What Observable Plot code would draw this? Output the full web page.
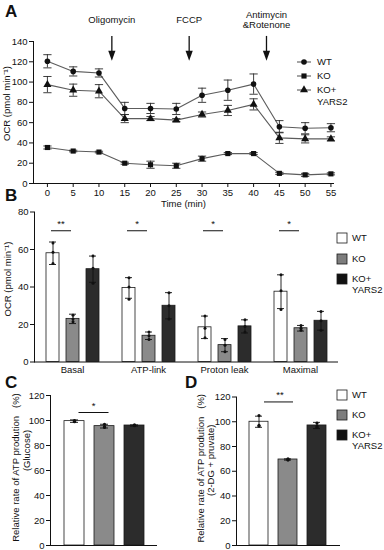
<!DOCTYPE html>
<html>
<head>
<meta charset="utf-8">
<script src="https://cdn.jsdelivr.net/npm/d3@7"></script>
<script src="https://cdn.jsdelivr.net/npm/@observablehq/plot@0.6"></script>
<style>
  body { margin: 0; background: #fff; }
  #fig { position: relative; width: 384px; height: 550px; overflow: hidden; background: #fff;
         font-family: "Liberation Sans", Arial, Helvetica, sans-serif; }
  #fig > div.panel { position: absolute; }
  #overlay { position: absolute; left: 0; top: 0; pointer-events: none; }
</style>
</head>
<body>
<div id="fig"></div>
<script>
// ---------------- DATA ----------------
// Panel A: Seahorse OCR time course
const timeMin = [0, 5, 10, 15, 20, 25, 30, 35, 40, 45, 50, 55];
const ocrWT  = [120.5, 110.5, 109, 74, 74, 73.5, 87, 92, 98, 56, 54.5, 55];
const sdWT   = [6.5, 4.5, 4, 6, 5, 5.5, 7, 10, 10, 6, 5.5, 4];
const ocrKO  = [35.5, 32, 31, 20, 18.5, 17.5, 24.5, 29.5, 29.5, 10, 8.5, 9.5];
const sdKO   = [1.5, 0.8, 0.8, 1, 3.5, 2.5, 2.5, 1, 1, 1, 1.5, 1];
const ocrKOY = [97.5, 92, 91, 64, 64, 62.5, 68, 72, 78, 45, 44, 44];
const sdKOY  = [8, 6, 6.5, 4, 2, 1.5, 2.5, 5, 5.5, 5.5, 4, 2];
const yTicksA = [0, 20, 40, 60, 80, 100, 120, 140];
const injectionNames = ["Oligomycin", "FCCP", "Antimycin\n&Rotenone"];
const injectionTimes = [12.5, 27.5, 42.5];

// Panel B: OCR parameters
const metrics = ["Basal", "ATP-link", "Proton leak", "Maximal"];
const genotypes = ["WT", "KO", "KO+YARS2"];
const ocrB_WT  = [58, 39.5, 18.5, 37.5];
const ocrB_KO  = [23, 14, 9, 18];
const ocrB_KOY = [49.5, 30, 19, 22];
const sdB_WT  = [6, 5.5, 6, 9];
const sdB_KO  = [2.5, 2, 3.5, 1.5];
const sdB_KOY = [7, 7, 3.5, 5];
const ptsB_WT  = [[63.5, 58.5, 52.5], [45, 40, 33.5], [24.5, 18, 13], [46.5, 38, 28]];
const ptsB_KO  = [[25, 23, 21.5], [16, 14, 12], [12, 9, 5.5], [19.5, 18, 17]];
const ptsB_KOY = [[56.5, 50, 42], [37, 30, 23], [22.5, 19, 16], [27, 22, 17]];
const sigB = ["**", "*", "*", "*"];
const yTicksB = [0, 20, 40, 60, 80];

// Panel C: relative ATP production (Glucose)
const atpGlc = [99.5, 95.5, 96];
const sdGlc  = [1, 1.5, 0.5];
const ptsGlc = [[100, 99, 99.5], [97, 95, 94.5], [96.5, 96, 95.8]];
const sigC = "*";

// Panel D: relative ATP production (2-DG + pruvate)
const atpDG = [100, 69.5, 97];
const sdDG  = [4.5, 0.5, 2.5];
const ptsDG = [[105, 97, 96.5], [70, 69.5, 69], [99, 96.5, 95.5]];
const sigD = "**";
const yTicksCD = [0, 20, 40, 60, 80, 100, 120];

const legendLabels = [["WT"], ["KO"], ["KO+", "YARS2"]];
const barFill = ["#ffffff", "#8a8a8a", "#2c2c2c"];

// ---------------- HELPERS ----------------
const FONT = "'Liberation Sans', Arial, Helvetica, sans-serif";
const INK = "#111";
const fig = document.getElementById("fig");
function plotStyle() {
  return {fontFamily: FONT, fontSize: "9.5px", color: INK, background: "transparent", overflow: "visible"};
}
function place(node, left, top) {
  const d = document.createElement("div");
  d.className = "panel";
  d.style.left = left + "px";
  d.style.top = top + "px";
  d.appendChild(node);
  fig.appendChild(d);
}
// filled arrow head, tip at the anchor point
const arrowHead = {draw(ctx) { ctx.moveTo(0, 0); ctx.lineTo(-3.6, -10); ctx.lineTo(3.6, -10); ctx.closePath(); }};
const rotLabel = {frameAnchor: "left", rotate: -90, textAnchor: "middle", lineAnchor: "middle", fill: INK};

// ---------------- PANEL A ----------------
const seriesA = [
  {key: "WT", symbol: "circle", r: 2.8, mean: ocrWT, sd: sdWT},
  {key: "KO", symbol: "square", r: 2.9, mean: ocrKO, sd: sdKO},
  {key: "KO+YARS2", symbol: "triangle", r: 3.0, mean: ocrKOY, sd: sdKOY}
];
const rowsA = seriesA.flatMap(s => timeMin.map((t, i) => ({
  key: s.key, t, v: s.mean[i], lo: s.mean[i] - s.sd[i], hi: s.mean[i] + s.sd[i]
})));
const capA = 0.8;
const plotA = Plot.plot({
  width: 384, height: 210, marginLeft: 33, marginRight: 51, marginTop: 41, marginBottom: 27,
  style: plotStyle(),
  x: {domain: [-2.7, 55.5]},
  y: {domain: [0, 140]},
  marks: [
    Plot.frame({anchor: "left", stroke: INK}),
    Plot.frame({anchor: "bottom", stroke: INK}),
    Plot.axisX({ticks: timeMin, tickSize: 4, tickPadding: 2, label: null}),
    Plot.axisY({ticks: yTicksA, tickSize: 4, tickPadding: 2, label: null}),
    Plot.line(rowsA, {x: "t", y: "v", z: "key", stroke: "#5c5c5c", strokeWidth: 1.1}),
    Plot.ruleX(rowsA, {x: "t", y1: "lo", y2: "hi", stroke: "#2a2a2a", strokeWidth: 0.9}),
    Plot.link(rowsA, {x1: d => d.t - capA, x2: d => d.t + capA, y1: "hi", y2: "hi", stroke: "#2a2a2a", strokeWidth: 0.9}),
    Plot.link(rowsA, {x1: d => d.t - capA, x2: d => d.t + capA, y1: "lo", y2: "lo", stroke: "#2a2a2a", strokeWidth: 0.9}),
    ...seriesA.map(s => Plot.dot(rowsA.filter(d => d.key === s.key), {x: "t", y: "v", symbol: s.symbol, r: s.r, fill: INK, stroke: "none"})),
    Plot.ruleX(injectionTimes, {x: d => d, y1: 145, y2: 130, stroke: INK, strokeWidth: 1.3}),
    Plot.dot(injectionTimes, {x: d => d, y: 121, symbol: arrowHead, fill: INK, stroke: "none"}),
    Plot.text(injectionNames, {x: (d, i) => injectionTimes[i], y: 161.7, text: d => d, lineHeight: 1.05, fill: INK}),
    Plot.text(["Time (min)"], {frameAnchor: "bottom", lineAnchor: "middle", dy: 20.5, fill: INK}),
    Plot.text(["OCR (pmol min\u207b\u00b9)"], {...rotLabel, dx: -27, dy: -9})
  ]
});
place(plotA, 0, 0);

// ---------------- PANEL B ----------------
const meansB = [ocrB_WT, ocrB_KO, ocrB_KOY];
const sdsB = [sdB_WT, sdB_KO, sdB_KOY];
const ptsB = [ptsB_WT, ptsB_KO, ptsB_KOY];
const barsB = [], dotsB = [];
genotypes.forEach((g, gi) => metrics.forEach((m, mi) => {
  const mean = meansB[gi][mi], sd = sdsB[gi][mi];
  barsB.push({metric: m, genotype: g, mean, lo: mean - sd, hi: mean + sd});
  ptsB[gi][mi].forEach(v => dotsB.push({metric: m, genotype: g, v}));
}));
const sigRowsB = metrics.map((m, i) => ({metric: m, from: "WT", to: "KO", y: 70, label: sigB[i]}));

const plotB = Plot.plot({
  width: 384, height: 190, marginLeft: 33, marginRight: 45, marginTop: 21.5, marginBottom: 18.5,
  style: plotStyle(),
  fx: {domain: metrics, padding: 0, label: null},
  x: {domain: genotypes, paddingInner: 0.37, paddingOuter: 0.53, axis: null},
  y: {domain: [0, 80]},
  color: {domain: genotypes, range: barFill},
  marks: [
    Plot.axisFx({anchor: "bottom", tickSize: 0, tickPadding: 4, label: null}),
    Plot.axisY({ticks: yTicksB, tickSize: 4, tickPadding: 2, label: null}),
    Plot.barY(barsB, {fx: "metric", x: "genotype", y: "mean", fill: "genotype", stroke: "#1a1a1a", strokeWidth: 0.8}),
    Plot.ruleX(barsB, {fx: "metric", x: "genotype", y1: "lo", y2: "hi", stroke: INK, strokeWidth: 0.9}),
    Plot.tickY(barsB, {fx: "metric", x: "genotype", y: "hi", insetLeft: 3, insetRight: 3, stroke: INK, strokeWidth: 0.9}),
    Plot.tickY(barsB, {fx: "metric", x: "genotype", y: "lo", insetLeft: 3, insetRight: 3, stroke: INK, strokeWidth: 0.9}),
    Plot.dot(dotsB, {fx: "metric", x: "genotype", y: "v", r: 1.5, fill: INK, stroke: "none"}),
    Plot.link(sigRowsB, {fx: "metric", x1: "from", x2: "to", y1: "y", y2: "y", dx: -2, stroke: INK, strokeWidth: 1}),
    Plot.text(sigRowsB, {fx: "metric", x: "from", y: "y", text: "label", dx: 8, dy: -7, fill: INK}),
    Plot.ruleY([0], {stroke: INK}),
    Plot.frame({anchor: "left", facet: "super", stroke: INK}),
    Plot.text(["OCR (pmol min\u207b\u00b9)"], {...rotLabel, dx: -27, dy: -8, facet: "super"})
  ]
});
place(plotB, 0, 190);

// ---------------- PANELS C & D ----------------
function atpPanel({means, sds, pts, sig, sigY, sigDx, starDx, label2, width, mL, mR, mT, pad, l1dx, l2dx, l1dy, l2dy}) {
  const bars = genotypes.map((g, i) => ({genotype: g, mean: means[i], lo: means[i] - sds[i], hi: means[i] + sds[i]}));
  const dots = genotypes.flatMap((g, i) => pts[i].map(v => ({genotype: g, v})));
  const sigRow = [{from: "WT", to: "KO", y: sigY, label: sig}];
  return Plot.plot({
    width, height: 170, marginLeft: mL, marginRight: mR, marginTop: mT, marginBottom: 5,
    style: plotStyle(),
    x: {domain: genotypes, paddingInner: pad[0], paddingOuter: pad[1], axis: null},
    y: {domain: [0, 120]},
    color: {domain: genotypes, range: barFill},
    marks: [
      Plot.frame({anchor: "left", stroke: INK}),
      Plot.axisY({ticks: yTicksCD, tickSize: 4, tickPadding: 2, label: null}),
      Plot.barY(bars, {x: "genotype", y: "mean", fill: "genotype", stroke: "#1a1a1a", strokeWidth: 0.8}),
      Plot.ruleX(bars, {x: "genotype", y1: "lo", y2: "hi", stroke: INK, strokeWidth: 0.9}),
      Plot.tickY(bars, {x: "genotype", y: "hi", insetLeft: 6, insetRight: 6, stroke: INK, strokeWidth: 0.9}),
      Plot.tickY(bars, {x: "genotype", y: "lo", insetLeft: 6, insetRight: 6, stroke: INK, strokeWidth: 0.9}),
      Plot.dot(dots, {x: "genotype", y: "v", r: 1.6, fill: INK, stroke: "none"}),
      Plot.ruleY([0], {stroke: INK}),
      Plot.link(sigRow, {x1: "from", x2: "to", y1: "y", y2: "y", dx: sigDx, stroke: INK, strokeWidth: 1}),
      Plot.text(sigRow, {x: "from", y: "y", text: "label", dx: starDx, dy: -7, fill: INK}),
      Plot.text(["Relative rate of ATP prodution\u00a0\u00a0\u00a0(%)"], {...rotLabel, dx: l1dx, dy: l1dy}),
      Plot.text([label2], {...rotLabel, dx: l2dx, dy: l2dy})
    ]
  });
}
const plotC = atpPanel({means: atpGlc, sds: sdGlc, pts: ptsGlc, sig: sigC, sigY: 106.4, sigDx: 4, starDx: 19,
  label2: "(Glucose)", width: 180, mL: 50, mR: 23, mT: 15, pad: [0.344, 0.426],
  l1dx: -34.5, l2dx: -24, l1dy: -3, l2dy: -20});
place(plotC, 0, 380);
const plotD = atpPanel({means: atpDG, sds: sdDG, pts: ptsDG, sig: sigD, sigY: 116, sigDx: 5, starDx: 21,
  label2: "(2-DG + pruvate)", width: 204, mL: 56, mR: 44, mT: 16.5, pad: [0.333, 0.4],
  l1dx: -35.5, l2dx: -26, l1dy: -3, l2dy: -11});
place(plotD, 180, 380);

// ---------------- OVERLAY: panel letters & legends ----------------
const ov = d3.select("#fig").append("svg").attr("id", "overlay").attr("width", 384).attr("height", 550)
  .style("font-family", FONT).style("font-size", "9.5px");
const letters = [["A", 5, 17], ["B", 5, 201], ["C", 5, 388], ["D", 185, 388]];
ov.selectAll("text.letter").data(letters).join("text").attr("class", "letter")
  .attr("x", d => d[1]).attr("y", d => d[2]).text(d => d[0])
  .style("font-size", "17px").style("font-weight", "bold").attr("fill", INK);

// legend A (line + marker)
const legA = ov.append("g");
const symbolsA = [d3.symbolCircle, d3.symbolSquare, d3.symbolTriangle];
const legAy = [62, 76, 90];
legendLabels.forEach((lines, i) => {
  legA.append("line").attr("x1", 297).attr("x2", 311).attr("y1", legAy[i]).attr("y2", legAy[i])
    .attr("stroke", "#5c5c5c").attr("stroke-width", 1.1);
  legA.append("path").attr("d", d3.symbol(symbolsA[i], Math.PI * seriesA[i].r * seriesA[i].r)())
    .attr("transform", `translate(304,${legAy[i]})`).attr("fill", INK);
  lines.forEach((t, j) => legA.append("text").attr("x", 317).attr("y", legAy[i] + 3.4 + j * 12).text(t).attr("fill", INK));
});

// swatch legends B and D
function swatchLegend(ys) {
  const g = ov.append("g");
  legendLabels.forEach((lines, i) => {
    g.append("rect").attr("x", 337).attr("y", ys[i] - 5).attr("width", 10).attr("height", 10)
      .attr("fill", i === 0 ? "#fff" : (i === 1 ? "#7d7d7d" : "#111")).attr("stroke", "#1a1a1a").attr("stroke-width", 0.8);
    lines.forEach((t, j) => g.append("text").attr("x", 352).attr("y", ys[i] + 3.4 + j * 11).text(t).attr("fill", INK));
  });
}
swatchLegend([238, 259, 279]);
swatchLegend([395, 415, 435]);
</script>
</body>
</html>
